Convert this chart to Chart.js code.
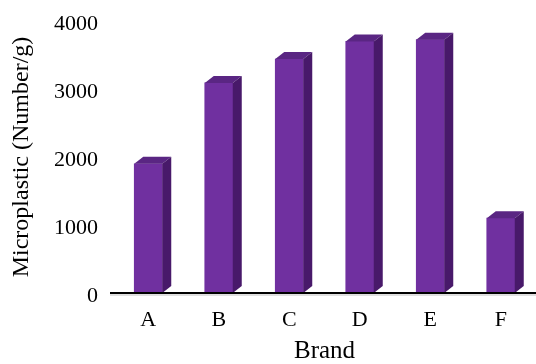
<!DOCTYPE html>
<html>
<head>
<meta charset="utf-8">
<script src="https://cdn.jsdelivr.net/npm/chart.js@4.4.1/dist/chart.umd.min.js"></script>
<style>
  html, body { margin: 0; padding: 0; background: #ffffff; }
  #wrap { width: 536px; height: 364px; position: relative; }
</style>
</head>
<body>
<div id="wrap"><canvas id="chart"></canvas></div>
<script>
//================================ DADES

const BRANDS = ['A', 'B', 'C', 'D', 'E', 'F'];
const MICROPLASTIC = [1900, 3090, 3440, 3700, 3725, 1100];
const Y_TICKS = [0, 1000, 2000, 3000, 4000];

//================================ ESTIL

const FRONT = '#7030a0';
const TOP = '#5a2683';
const SIDE = '#48196a';
const DEPTH_X = 9;
const DEPTH_Y = 7;
const serif = 'Liberation Serif, Times New Roman, serif';

//================================ PLUGIN 3D

// Dibuixa la cara superior i lateral de cada barra, i la línia de l’eix X.
const bars3d = {
  id: 'bars3d',
  afterDatasetsDraw (chart) {
    const ctx = chart.ctx;
    const meta = chart.getDatasetMeta(0);
    for (let i = 0; i < meta.data.length; i++) {
      const bar = meta.data[i];
      const left = bar.x - bar.width / 2;
      const right = bar.x + bar.width / 2;
      const top = bar.y;
      const base = bar.base;

      ctx.save();
      // cara superior
      ctx.beginPath();
      ctx.moveTo(left, top);
      ctx.lineTo(left + DEPTH_X, top - DEPTH_Y);
      ctx.lineTo(right + DEPTH_X, top - DEPTH_Y);
      ctx.lineTo(right, top);
      ctx.closePath();
      ctx.fillStyle = TOP;
      ctx.fill();
      // cara lateral
      ctx.beginPath();
      ctx.moveTo(right, top);
      ctx.lineTo(right + DEPTH_X, top - DEPTH_Y);
      ctx.lineTo(right + DEPTH_X, base - DEPTH_Y);
      ctx.lineTo(right, base);
      ctx.closePath();
      ctx.fillStyle = SIDE;
      ctx.fill();
      ctx.restore();
    }

    // línia de l’eix X
    const y0 = chart.scales.y.getPixelForValue(0);
    ctx.save();
    ctx.strokeStyle = 'rgba(0,0,0,0.25)';
    ctx.lineWidth = 1;
    ctx.beginPath();
    ctx.moveTo(110, y0 + 2);
    ctx.lineTo(chart.width, y0 + 2);
    ctx.stroke();
    ctx.strokeStyle = '#000000';
    ctx.lineWidth = 2.2;
    ctx.beginPath();
    ctx.moveTo(110, y0);
    ctx.lineTo(chart.width, y0);
    ctx.stroke();
    ctx.restore();
  }
};

//================================ GRÀFIC

new Chart(document.getElementById('chart'), {
  type: 'bar',
  data: {
    labels: BRANDS,
    datasets: [
      {
        label: 'Microplastic',
        data: MICROPLASTIC,
        backgroundColor: FRONT,
        borderWidth: 0,
        barThickness: 28,
      },
    ],
  },
  options: {
    responsive: true,
    maintainAspectRatio: false,
    animation: false,
    layout: {
      padding: { top: 21, right: 0, bottom: 0, left: 0 },
    },
    plugins: {
      legend: { display: false },
      tooltip: { enabled: false },
    },
    scales: {
      x: {
        grid: { display: false, drawTicks: false },
        border: { display: false },
        ticks: {
          color: '#000000',
          font: { family: serif, size: 22 },
          padding: 14,
        },
        title: {
          display: true,
          text: 'Brand',
          color: '#000000',
          font: { family: serif, size: 25 },
          padding: { top: 0, bottom: -2 },
        },
        afterFit (scale) {
          scale.height = 71;
          scale.paddingLeft = 0;
          scale.paddingRight = 0;
        },
      },
      y: {
        min: 0,
        max: 4000,
        afterBuildTicks (scale) {
          const t = [];
          for (let i = 0; i < Y_TICKS.length; i++) {
            t.push({ value: Y_TICKS[i] });
          }
          scale.ticks = t;
        },
        grid: { display: false, drawTicks: false },
        border: { display: false },
        ticks: {
          color: '#000000',
          font: { family: serif, size: 22 },
          padding: 15,
          labelOffset: 3,
          callback (value) {
            return String(value);
          },
        },
        title: {
          display: true,
          text: 'Microplastic (Number/g)',
          color: '#000000',
          font: { family: serif, size: 24 },
          padding: { top: 7, bottom: 0 },
        },
        afterFit (scale) {
          scale.width = 113;
          scale.paddingTop = 0;
          scale.paddingBottom = 0;
        },
      },
    },
  },
  plugins: [bars3d],
});
</script>
</body>
</html>
